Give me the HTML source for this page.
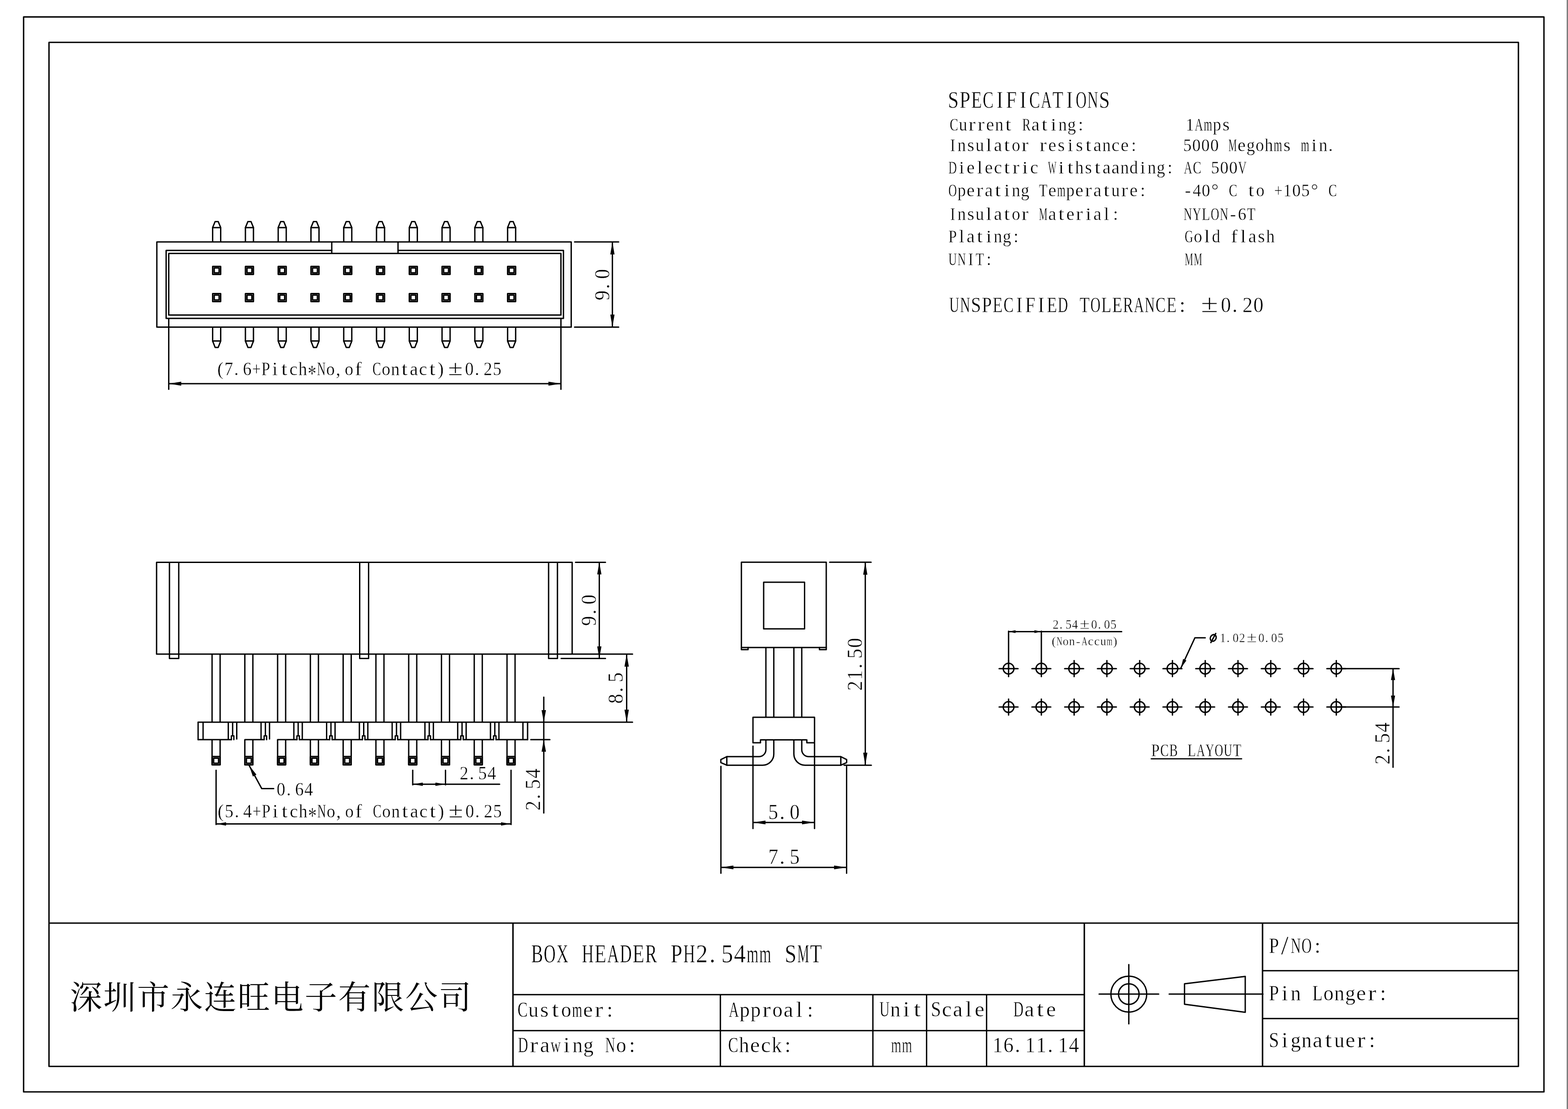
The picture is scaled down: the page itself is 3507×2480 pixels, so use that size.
<!DOCTYPE html>
<html lang="en"><head><meta charset="utf-8"><title>BOX HEADER PH2.54mm SMT</title>
<style>
html,body{margin:0;padding:0;background:#fff}
body{width:3507px;height:2480px;overflow:hidden;position:relative}
svg{display:block;position:absolute;left:0;top:0;will-change:transform}
.edge{position:absolute;right:0;top:0;width:3px;height:2480px;background:#808080}
.ln{fill:none;stroke:#000;stroke-width:3;stroke-linecap:round;stroke-linejoin:round}
.ln .ar{fill:#000;stroke:none}
.tx{font-family:"Liberation Serif",serif;fill:#000;stroke:#fff;font-kerning:none;white-space:pre}
.cj{fill:#000}
</style></head><body>
<svg width="3507" height="2480" viewBox="0 0 3507 2480">
<g class="ln">
<path d="M52.8 37.9L3453.2 37.9L3453.2 2441.8L52.8 2441.8Z" stroke-width="3.1"/>
<path d="M109.6 94.8L3396.1 94.8L3396.1 2384.8L109.6 2384.8Z" stroke-width="3.1"/>
<path d="M110.9 2064.3L3394.8 2064.3" stroke-width="3"/>
<path d="M1147.3 2065.6L1147.3 2383.5" stroke-width="3.3"/>
<path d="M2425.2 2065.6L2425.2 2383.5" stroke-width="3.3"/>
<path d="M2823.8 2065.6L2823.8 2383.5" stroke-width="3.3"/>
<path d="M1148.6 2224.2L2424.3 2224.2" stroke-width="3"/>
<path d="M1148.6 2304.7L2424.3 2304.7" stroke-width="3"/>
<path d="M1611.2 2225.5L1611.2 2383.5" stroke-width="3"/>
<path d="M1952.3 2225.5L1952.3 2383.5" stroke-width="3"/>
<path d="M2072.4 2225.5L2072.4 2383.5" stroke-width="3"/>
<path d="M2206.6 2225.5L2206.6 2383.5" stroke-width="3"/>
<path d="M2825.1 2170.8L3394.8 2170.8" stroke-width="3"/>
<path d="M2825.1 2277.8L3394.8 2277.8" stroke-width="3"/>
<circle cx="2524.7" cy="2223.1" r="40.1"/><circle cx="2524.7" cy="2223.1" r="23"/>
<path d="M2458.3 2223.1L2591.5 2223.1"/>
<path d="M2524.7 2157.1L2524.7 2289.6"/>
<path d="M2649.3 2200.1L2785.1 2183.4L2785.1 2263.7L2649.3 2245.7Z"/>
<path d="M2615 2223.1L2824.7 2223.1"/>
<path d="M350.8 541L1277.6 541L1277.6 731.6L350.8 731.6Z"/>
<path d="M742 559.9L371.6 559.9L371.6 711.9L1260.2 711.9L1260.2 559.9L890.2 559.9"/>
<path d="M377.4 566.8L1254.6 566.8L1254.6 704.4L377.4 704.4Z"/>
<path d="M742 542.3L742 565.5"/>
<path d="M890.2 542.3L890.2 565.5"/>
<path d="M475.6 540L475.6 508.9L481.2 495.4L488 495.4L493.6 508.9L493.6 540"/>
<path d="M475.6 508.9L493.6 508.9"/>
<path d="M475.6 732.6L475.6 762.6L481.2 777L488 777L493.6 762.6L493.6 732.6"/>
<path d="M475.6 762.6L493.6 762.6"/>
<path d="M475.7 595.8L493.5 595.8L493.5 613.6L475.7 613.6Z" stroke-width="3.2"/>
<path d="M479.1 599.2L490.1 599.2L490.1 610.2L479.1 610.2Z" stroke-width="3.2"/>
<path d="M475.7 656.5L493.5 656.5L493.5 674.3L475.7 674.3Z" stroke-width="3.2"/>
<path d="M479.1 659.9L490.1 659.9L490.1 670.9L479.1 670.9Z" stroke-width="3.2"/>
<path d="M548.9 540L548.9 508.9L554.5 495.4L561.3 495.4L566.9 508.9L566.9 540"/>
<path d="M548.9 508.9L566.9 508.9"/>
<path d="M548.9 732.6L548.9 762.6L554.5 777L561.3 777L566.9 762.6L566.9 732.6"/>
<path d="M548.9 762.6L566.9 762.6"/>
<path d="M549 595.8L566.8 595.8L566.8 613.6L549 613.6Z" stroke-width="3.2"/>
<path d="M552.4 599.2L563.4 599.2L563.4 610.2L552.4 610.2Z" stroke-width="3.2"/>
<path d="M549 656.5L566.8 656.5L566.8 674.3L549 674.3Z" stroke-width="3.2"/>
<path d="M552.4 659.9L563.4 659.9L563.4 670.9L552.4 670.9Z" stroke-width="3.2"/>
<path d="M622.2 540L622.2 508.9L627.8 495.4L634.6 495.4L640.2 508.9L640.2 540"/>
<path d="M622.2 508.9L640.2 508.9"/>
<path d="M622.2 732.6L622.2 762.6L627.8 777L634.6 777L640.2 762.6L640.2 732.6"/>
<path d="M622.2 762.6L640.2 762.6"/>
<path d="M622.3 595.8L640.1 595.8L640.1 613.6L622.3 613.6Z" stroke-width="3.2"/>
<path d="M625.7 599.2L636.7 599.2L636.7 610.2L625.7 610.2Z" stroke-width="3.2"/>
<path d="M622.3 656.5L640.1 656.5L640.1 674.3L622.3 674.3Z" stroke-width="3.2"/>
<path d="M625.7 659.9L636.7 659.9L636.7 670.9L625.7 670.9Z" stroke-width="3.2"/>
<path d="M695.5 540L695.5 508.9L701.1 495.4L707.9 495.4L713.5 508.9L713.5 540"/>
<path d="M695.5 508.9L713.5 508.9"/>
<path d="M695.5 732.6L695.5 762.6L701.1 777L707.9 777L713.5 762.6L713.5 732.6"/>
<path d="M695.5 762.6L713.5 762.6"/>
<path d="M695.6 595.8L713.4 595.8L713.4 613.6L695.6 613.6Z" stroke-width="3.2"/>
<path d="M699 599.2L710 599.2L710 610.2L699 610.2Z" stroke-width="3.2"/>
<path d="M695.6 656.5L713.4 656.5L713.4 674.3L695.6 674.3Z" stroke-width="3.2"/>
<path d="M699 659.9L710 659.9L710 670.9L699 670.9Z" stroke-width="3.2"/>
<path d="M768.8 540L768.8 508.9L774.4 495.4L781.2 495.4L786.8 508.9L786.8 540"/>
<path d="M768.8 508.9L786.8 508.9"/>
<path d="M768.8 732.6L768.8 762.6L774.4 777L781.2 777L786.8 762.6L786.8 732.6"/>
<path d="M768.8 762.6L786.8 762.6"/>
<path d="M768.9 595.8L786.7 595.8L786.7 613.6L768.9 613.6Z" stroke-width="3.2"/>
<path d="M772.3 599.2L783.3 599.2L783.3 610.2L772.3 610.2Z" stroke-width="3.2"/>
<path d="M768.9 656.5L786.7 656.5L786.7 674.3L768.9 674.3Z" stroke-width="3.2"/>
<path d="M772.3 659.9L783.3 659.9L783.3 670.9L772.3 670.9Z" stroke-width="3.2"/>
<path d="M842.1 540L842.1 508.9L847.7 495.4L854.5 495.4L860.1 508.9L860.1 540"/>
<path d="M842.1 508.9L860.1 508.9"/>
<path d="M842.1 732.6L842.1 762.6L847.7 777L854.5 777L860.1 762.6L860.1 732.6"/>
<path d="M842.1 762.6L860.1 762.6"/>
<path d="M842.2 595.8L860 595.8L860 613.6L842.2 613.6Z" stroke-width="3.2"/>
<path d="M845.6 599.2L856.6 599.2L856.6 610.2L845.6 610.2Z" stroke-width="3.2"/>
<path d="M842.2 656.5L860 656.5L860 674.3L842.2 674.3Z" stroke-width="3.2"/>
<path d="M845.6 659.9L856.6 659.9L856.6 670.9L845.6 670.9Z" stroke-width="3.2"/>
<path d="M915.4 540L915.4 508.9L921 495.4L927.8 495.4L933.4 508.9L933.4 540"/>
<path d="M915.4 508.9L933.4 508.9"/>
<path d="M915.4 732.6L915.4 762.6L921 777L927.8 777L933.4 762.6L933.4 732.6"/>
<path d="M915.4 762.6L933.4 762.6"/>
<path d="M915.5 595.8L933.3 595.8L933.3 613.6L915.5 613.6Z" stroke-width="3.2"/>
<path d="M918.9 599.2L929.9 599.2L929.9 610.2L918.9 610.2Z" stroke-width="3.2"/>
<path d="M915.5 656.5L933.3 656.5L933.3 674.3L915.5 674.3Z" stroke-width="3.2"/>
<path d="M918.9 659.9L929.9 659.9L929.9 670.9L918.9 670.9Z" stroke-width="3.2"/>
<path d="M988.7 540L988.7 508.9L994.3 495.4L1001.1 495.4L1006.7 508.9L1006.7 540"/>
<path d="M988.7 508.9L1006.7 508.9"/>
<path d="M988.7 732.6L988.7 762.6L994.3 777L1001.1 777L1006.7 762.6L1006.7 732.6"/>
<path d="M988.7 762.6L1006.7 762.6"/>
<path d="M988.8 595.8L1006.6 595.8L1006.6 613.6L988.8 613.6Z" stroke-width="3.2"/>
<path d="M992.2 599.2L1003.2 599.2L1003.2 610.2L992.2 610.2Z" stroke-width="3.2"/>
<path d="M988.8 656.5L1006.6 656.5L1006.6 674.3L988.8 674.3Z" stroke-width="3.2"/>
<path d="M992.2 659.9L1003.2 659.9L1003.2 670.9L992.2 670.9Z" stroke-width="3.2"/>
<path d="M1062 540L1062 508.9L1067.6 495.4L1074.4 495.4L1080 508.9L1080 540"/>
<path d="M1062 508.9L1080 508.9"/>
<path d="M1062 732.6L1062 762.6L1067.6 777L1074.4 777L1080 762.6L1080 732.6"/>
<path d="M1062 762.6L1080 762.6"/>
<path d="M1062.1 595.8L1079.9 595.8L1079.9 613.6L1062.1 613.6Z" stroke-width="3.2"/>
<path d="M1065.5 599.2L1076.5 599.2L1076.5 610.2L1065.5 610.2Z" stroke-width="3.2"/>
<path d="M1062.1 656.5L1079.9 656.5L1079.9 674.3L1062.1 674.3Z" stroke-width="3.2"/>
<path d="M1065.5 659.9L1076.5 659.9L1076.5 670.9L1065.5 670.9Z" stroke-width="3.2"/>
<path d="M1135.3 540L1135.3 508.9L1140.9 495.4L1147.7 495.4L1153.3 508.9L1153.3 540"/>
<path d="M1135.3 508.9L1153.3 508.9"/>
<path d="M1135.3 732.6L1135.3 762.6L1140.9 777L1147.7 777L1153.3 762.6L1153.3 732.6"/>
<path d="M1135.3 762.6L1153.3 762.6"/>
<path d="M1135.4 595.8L1153.2 595.8L1153.2 613.6L1135.4 613.6Z" stroke-width="3.2"/>
<path d="M1138.8 599.2L1149.8 599.2L1149.8 610.2L1138.8 610.2Z" stroke-width="3.2"/>
<path d="M1135.4 656.5L1153.2 656.5L1153.2 674.3L1135.4 674.3Z" stroke-width="3.2"/>
<path d="M1138.8 659.9L1149.8 659.9L1149.8 670.9L1138.8 670.9Z" stroke-width="3.2"/>
<path d="M1285.1 541L1383.7 541"/>
<path d="M1285.1 731.6L1383.7 731.6"/>
<path d="M1369.7 542.3L1369.7 730.3"/>
<path class="ar" d="M1369.7 541L1374.5 569L1365 569Z"/>
<path class="ar" d="M1369.7 731.6L1365 703.6L1374.5 703.6Z"/>
<path d="M377.4 713.8L377.4 870.5"/>
<path d="M1254.6 713.8L1254.6 870.5"/>
<path d="M378.7 858L1253.3 858"/>
<path class="ar" d="M377.4 858L405.4 853.5L405.4 862.5Z"/>
<path class="ar" d="M1254.6 858L1226.6 862.5L1226.6 853.5Z"/>
<path d="M350.2 1257.4L1279.7 1257.4L1279.7 1462.8L350.2 1462.8Z"/>
<path d="M379 1258.4L379 1472.6L399.8 1472.6L399.8 1258.4"/>
<path d="M804.5 1258.4L804.5 1472.6L824.4 1472.6L824.4 1258.4"/>
<path d="M1227 1258.4L1227 1472.6L1246.8 1472.6L1246.8 1258.4"/>
<path d="M443.1 1615.1L1414.7 1615.1"/>
<path d="M443.1 1615.1L443.1 1653.9"/>
<path d="M454.2 1616.4L454.2 1652.6"/>
<path d="M474.3 1464.1L474.3 1613.8"/>
<path d="M492.3 1464.1L492.3 1613.8"/>
<path d="M474.3 1655.2L474.3 1709.7"/>
<path d="M492.3 1655.2L492.3 1709.7"/>
<path d="M474.4 1691.9L492.2 1691.9L492.2 1710.3L474.4 1710.3Z" stroke-width="3.2"/>
<path d="M477.8 1695.4L488.8 1695.4L488.8 1706.8L477.8 1706.8Z" stroke-width="3.2"/>
<path d="M510.6 1616.4L510.6 1652.6"/>
<path d="M520.3 1616.4L520.3 1645.6"/>
<path d="M517.5 1653.9L517.5 1645.6L523 1645.6L523 1653.9"/>
<path d="M529.5 1616.4L529.5 1652.6"/>
<path d="M547.6 1464.1L547.6 1613.8"/>
<path d="M565.6 1464.1L565.6 1613.8"/>
<path d="M547.6 1655.2L547.6 1709.7"/>
<path d="M565.6 1655.2L565.6 1709.7"/>
<path d="M547.7 1691.9L565.5 1691.9L565.5 1710.3L547.7 1710.3Z" stroke-width="3.2"/>
<path d="M551.1 1695.4L562.1 1695.4L562.1 1706.8L551.1 1706.8Z" stroke-width="3.2"/>
<path d="M583.9 1616.4L583.9 1652.6"/>
<path d="M593.6 1616.4L593.6 1645.6"/>
<path d="M590.8 1653.9L590.8 1645.6L596.3 1645.6L596.3 1653.9"/>
<path d="M602.8 1616.4L602.8 1652.6"/>
<path d="M620.9 1464.1L620.9 1613.8"/>
<path d="M638.9 1464.1L638.9 1613.8"/>
<path d="M620.9 1655.2L620.9 1709.7"/>
<path d="M638.9 1655.2L638.9 1709.7"/>
<path d="M621 1691.9L638.8 1691.9L638.8 1710.3L621 1710.3Z" stroke-width="3.2"/>
<path d="M624.4 1695.4L635.4 1695.4L635.4 1706.8L624.4 1706.8Z" stroke-width="3.2"/>
<path d="M657.2 1616.4L657.2 1652.6"/>
<path d="M666.9 1616.4L666.9 1645.6"/>
<path d="M664.1 1653.9L664.1 1645.6L669.6 1645.6L669.6 1653.9"/>
<path d="M676.1 1616.4L676.1 1652.6"/>
<path d="M694.2 1464.1L694.2 1613.8"/>
<path d="M712.2 1464.1L712.2 1613.8"/>
<path d="M694.2 1655.2L694.2 1709.7"/>
<path d="M712.2 1655.2L712.2 1709.7"/>
<path d="M694.3 1691.9L712.1 1691.9L712.1 1710.3L694.3 1710.3Z" stroke-width="3.2"/>
<path d="M697.7 1695.4L708.7 1695.4L708.7 1706.8L697.7 1706.8Z" stroke-width="3.2"/>
<path d="M730.5 1616.4L730.5 1652.6"/>
<path d="M740.2 1616.4L740.2 1645.6"/>
<path d="M737.4 1653.9L737.4 1645.6L742.9 1645.6L742.9 1653.9"/>
<path d="M749.4 1616.4L749.4 1652.6"/>
<path d="M767.5 1464.1L767.5 1613.8"/>
<path d="M785.5 1464.1L785.5 1613.8"/>
<path d="M767.5 1655.2L767.5 1709.7"/>
<path d="M785.5 1655.2L785.5 1709.7"/>
<path d="M767.6 1691.9L785.4 1691.9L785.4 1710.3L767.6 1710.3Z" stroke-width="3.2"/>
<path d="M771 1695.4L782 1695.4L782 1706.8L771 1706.8Z" stroke-width="3.2"/>
<path d="M803.8 1616.4L803.8 1652.6"/>
<path d="M813.5 1616.4L813.5 1645.6"/>
<path d="M810.7 1653.9L810.7 1645.6L816.2 1645.6L816.2 1653.9"/>
<path d="M822.7 1616.4L822.7 1652.6"/>
<path d="M840.8 1464.1L840.8 1613.8"/>
<path d="M858.8 1464.1L858.8 1613.8"/>
<path d="M840.8 1655.2L840.8 1709.7"/>
<path d="M858.8 1655.2L858.8 1709.7"/>
<path d="M840.9 1691.9L858.7 1691.9L858.7 1710.3L840.9 1710.3Z" stroke-width="3.2"/>
<path d="M844.3 1695.4L855.3 1695.4L855.3 1706.8L844.3 1706.8Z" stroke-width="3.2"/>
<path d="M877.1 1616.4L877.1 1652.6"/>
<path d="M886.8 1616.4L886.8 1645.6"/>
<path d="M884 1653.9L884 1645.6L889.5 1645.6L889.5 1653.9"/>
<path d="M896 1616.4L896 1652.6"/>
<path d="M914.1 1464.1L914.1 1613.8"/>
<path d="M932.1 1464.1L932.1 1613.8"/>
<path d="M914.1 1655.2L914.1 1709.7"/>
<path d="M932.1 1655.2L932.1 1709.7"/>
<path d="M914.2 1691.9L932 1691.9L932 1710.3L914.2 1710.3Z" stroke-width="3.2"/>
<path d="M917.6 1695.4L928.6 1695.4L928.6 1706.8L917.6 1706.8Z" stroke-width="3.2"/>
<path d="M950.4 1616.4L950.4 1652.6"/>
<path d="M960.1 1616.4L960.1 1645.6"/>
<path d="M957.3 1653.9L957.3 1645.6L962.8 1645.6L962.8 1653.9"/>
<path d="M969.3 1616.4L969.3 1652.6"/>
<path d="M987.4 1464.1L987.4 1613.8"/>
<path d="M1005.4 1464.1L1005.4 1613.8"/>
<path d="M987.4 1655.2L987.4 1709.7"/>
<path d="M1005.4 1655.2L1005.4 1709.7"/>
<path d="M987.5 1691.9L1005.3 1691.9L1005.3 1710.3L987.5 1710.3Z" stroke-width="3.2"/>
<path d="M990.9 1695.4L1001.9 1695.4L1001.9 1706.8L990.9 1706.8Z" stroke-width="3.2"/>
<path d="M1023.7 1616.4L1023.7 1652.6"/>
<path d="M1033.4 1616.4L1033.4 1645.6"/>
<path d="M1030.6 1653.9L1030.6 1645.6L1036.1 1645.6L1036.1 1653.9"/>
<path d="M1042.6 1616.4L1042.6 1652.6"/>
<path d="M1060.7 1464.1L1060.7 1613.8"/>
<path d="M1078.7 1464.1L1078.7 1613.8"/>
<path d="M1060.7 1655.2L1060.7 1709.7"/>
<path d="M1078.7 1655.2L1078.7 1709.7"/>
<path d="M1060.8 1691.9L1078.6 1691.9L1078.6 1710.3L1060.8 1710.3Z" stroke-width="3.2"/>
<path d="M1064.2 1695.4L1075.2 1695.4L1075.2 1706.8L1064.2 1706.8Z" stroke-width="3.2"/>
<path d="M1097 1616.4L1097 1652.6"/>
<path d="M1106.7 1616.4L1106.7 1645.6"/>
<path d="M1103.9 1653.9L1103.9 1645.6L1109.4 1645.6L1109.4 1653.9"/>
<path d="M1115.9 1616.4L1115.9 1652.6"/>
<path d="M1134 1464.1L1134 1613.8"/>
<path d="M1152 1464.1L1152 1613.8"/>
<path d="M1134 1655.2L1134 1709.7"/>
<path d="M1152 1655.2L1152 1709.7"/>
<path d="M1134.1 1691.9L1151.9 1691.9L1151.9 1710.3L1134.1 1710.3Z" stroke-width="3.2"/>
<path d="M1137.5 1695.4L1148.5 1695.4L1148.5 1706.8L1137.5 1706.8Z" stroke-width="3.2"/>
<path d="M1169.6 1616.4L1169.6 1652.6"/>
<path d="M1180 1615.1L1180 1653.9"/>
<path d="M443.1 1653.9L517.5 1653.9"/>
<path d="M547.6 1653.9L590.8 1653.9"/>
<path d="M620.9 1653.9L664.1 1653.9"/>
<path d="M669.6 1653.9L737.4 1653.9"/>
<path d="M742.9 1653.9L810.7 1653.9"/>
<path d="M816.2 1653.9L884 1653.9"/>
<path d="M889.5 1653.9L957.3 1653.9"/>
<path d="M962.8 1653.9L1030.6 1653.9"/>
<path d="M1036.1 1653.9L1103.9 1653.9"/>
<path d="M1109.4 1653.9L1180 1653.9"/>
<path d="M1287.3 1257.4L1354.1 1257.4"/>
<path d="M1255.1 1472.4L1354.1 1472.4"/>
<path d="M1340.4 1258.7L1340.4 1471.1"/>
<path class="ar" d="M1340.4 1257.4L1345.2 1284.4L1335.7 1284.4Z"/>
<path class="ar" d="M1340.4 1472.4L1335.7 1445.4L1345.2 1445.4Z"/>
<path d="M1281 1462.8L1414.7 1462.8"/>
<path d="M1401.6 1464.1L1401.6 1613.8"/>
<path class="ar" d="M1401.6 1462.8L1406.5 1490.8L1396.7 1490.8Z"/>
<path class="ar" d="M1401.6 1615.1L1396.7 1587.1L1406.5 1587.1Z"/>
<path d="M1216.2 1558.9L1216.2 1818"/>
<path class="ar" d="M1216.2 1615.1L1211.3 1588.1L1221.1 1588.1Z"/>
<path class="ar" d="M1216.2 1654.1L1221.1 1681.1L1211.3 1681.1Z"/>
<path d="M1187.2 1654.1L1229.9 1654.1"/>
<path d="M923.1 1722.6L923.1 1755.1"/>
<path d="M996.4 1722.6L996.4 1755.1"/>
<path d="M924.4 1753.7L1117.4 1753.7"/>
<path class="ar" d="M923.1 1753.7L945.6 1750L945.6 1757.5Z"/>
<path class="ar" d="M996.4 1753.7L973.9 1757.5L973.9 1750Z"/>
<path d="M483.3 1722.6L483.3 1843.8"/>
<path d="M1143 1722.6L1143 1843.8"/>
<path d="M484.6 1842.4L1141.7 1842.4"/>
<path class="ar" d="M483.3 1842.4L505.8 1838.7L505.8 1846.2Z"/>
<path class="ar" d="M1143 1842.4L1120.5 1846.2L1120.5 1838.7Z"/>
<path d="M557.1 1711.5L585.4 1763.5L612.1 1763.5"/>
<path class="ar" d="M557.1 1711.5L573.5 1732.2L565.6 1736.5Z"/>
<path d="M1658.2 1257.2L1848 1257.2L1848 1448.1L1658.2 1448.1Z"/>
<path d="M1658.2 1448.1L1658.2 1452.8L1673.1 1452.8L1673.1 1448.1"/>
<path d="M1848 1448.1L1848 1452.8L1832.8 1452.8L1832.8 1448.1"/>
<path d="M1708 1302.1L1799.5 1302.1L1799.5 1406.2L1708 1406.2Z"/>
<path d="M1713 1449.4L1713 1602.8"/>
<path d="M1730.7 1449.4L1730.7 1602.8"/>
<path d="M1775.6 1449.4L1775.6 1602.8"/>
<path d="M1793.2 1449.4L1793.2 1602.8"/>
<path d="M1684.1 1660.9L1684.1 1604.1L1821.8 1604.1L1821.8 1660.9L1804.6 1660.9L1804.6 1654.4L1700.9 1654.4L1700.9 1660.9Z"/>
<path d="M1713 1654.4V1676.5 A15.5 15.5 0 0 1 1697.5 1692H1625.6"/>
<path d="M1730.7 1654.4V1686.2 A25 25 0 0 1 1705.7 1711.2H1625.6"/>
<path d="M1625.6 1692L1612.2 1698.7L1612.2 1705.3L1625.6 1711.2"/>
<path d="M1625.6 1693.3L1625.6 1709.9"/>
<path d="M1793.2 1654.4V1676.5 A15.5 15.5 0 0 0 1808.7 1692H1880.6"/>
<path d="M1775.6 1654.4V1686.2 A25 25 0 0 0 1800.6 1711.2H1880.6"/>
<path d="M1880.6 1692L1893.6 1698.7L1893.6 1705.3L1880.6 1711.2"/>
<path d="M1880.6 1693.3L1880.6 1709.9"/>
<path d="M1855.7 1257.2L1948.2 1257.2"/>
<path d="M1888 1711.2L1948.7 1711.2"/>
<path d="M1935.3 1258.5L1935.3 1709.9"/>
<path class="ar" d="M1935.3 1257.2L1940 1285.2L1930.6 1285.2Z"/>
<path class="ar" d="M1935.3 1711.2L1930.6 1683.2L1940 1683.2Z"/>
<path d="M1684.1 1668.5L1684.1 1852.7"/>
<path d="M1821.8 1662.2L1821.8 1852.7"/>
<path d="M1685.4 1839.3L1820.5 1839.3"/>
<path class="ar" d="M1684.1 1839.3L1712.1 1835L1712.1 1843.5Z"/>
<path class="ar" d="M1821.8 1839.3L1793.8 1843.5L1793.8 1835Z"/>
<path d="M1612.4 1713.7L1612.4 1952.7"/>
<path d="M1893.5 1713.7L1893.5 1952.7"/>
<path d="M1613.7 1939.8L1892.2 1939.8"/>
<path class="ar" d="M1612.4 1939.8L1640.4 1935.5L1640.4 1944Z"/>
<path class="ar" d="M1893.5 1939.8L1865.5 1944L1865.5 1935.5Z"/>
<circle cx="2255.8" cy="1495.2" r="12"/>
<path d="M2234.7 1495.2L2276.9 1495.2"/>
<path d="M2255.8 1477.3L2255.8 1513.1"/>
<circle cx="2255.8" cy="1581.1" r="12"/>
<path d="M2234.7 1581.1L2276.9 1581.1"/>
<path d="M2255.8 1563.2L2255.8 1599"/>
<circle cx="2329.1" cy="1495.2" r="12"/>
<path d="M2308 1495.2L2350.2 1495.2"/>
<path d="M2329.1 1477.3L2329.1 1513.1"/>
<circle cx="2329.1" cy="1581.1" r="12"/>
<path d="M2308 1581.1L2350.2 1581.1"/>
<path d="M2329.1 1563.2L2329.1 1599"/>
<circle cx="2402.4" cy="1495.2" r="12"/>
<path d="M2381.3 1495.2L2423.5 1495.2"/>
<path d="M2402.4 1477.3L2402.4 1513.1"/>
<circle cx="2402.4" cy="1581.1" r="12"/>
<path d="M2381.3 1581.1L2423.5 1581.1"/>
<path d="M2402.4 1563.2L2402.4 1599"/>
<circle cx="2475.7" cy="1495.2" r="12"/>
<path d="M2454.6 1495.2L2496.8 1495.2"/>
<path d="M2475.7 1477.3L2475.7 1513.1"/>
<circle cx="2475.7" cy="1581.1" r="12"/>
<path d="M2454.6 1581.1L2496.8 1581.1"/>
<path d="M2475.7 1563.2L2475.7 1599"/>
<circle cx="2549" cy="1495.2" r="12"/>
<path d="M2527.9 1495.2L2570.1 1495.2"/>
<path d="M2549 1477.3L2549 1513.1"/>
<circle cx="2549" cy="1581.1" r="12"/>
<path d="M2527.9 1581.1L2570.1 1581.1"/>
<path d="M2549 1563.2L2549 1599"/>
<circle cx="2622.3" cy="1495.2" r="12"/>
<path d="M2601.2 1495.2L2643.4 1495.2"/>
<path d="M2622.3 1477.3L2622.3 1513.1"/>
<circle cx="2622.3" cy="1581.1" r="12"/>
<path d="M2601.2 1581.1L2643.4 1581.1"/>
<path d="M2622.3 1563.2L2622.3 1599"/>
<circle cx="2695.6" cy="1495.2" r="12"/>
<path d="M2674.5 1495.2L2716.7 1495.2"/>
<path d="M2695.6 1477.3L2695.6 1513.1"/>
<circle cx="2695.6" cy="1581.1" r="12"/>
<path d="M2674.5 1581.1L2716.7 1581.1"/>
<path d="M2695.6 1563.2L2695.6 1599"/>
<circle cx="2768.9" cy="1495.2" r="12"/>
<path d="M2747.8 1495.2L2790 1495.2"/>
<path d="M2768.9 1477.3L2768.9 1513.1"/>
<circle cx="2768.9" cy="1581.1" r="12"/>
<path d="M2747.8 1581.1L2790 1581.1"/>
<path d="M2768.9 1563.2L2768.9 1599"/>
<circle cx="2842.2" cy="1495.2" r="12"/>
<path d="M2821.1 1495.2L2863.3 1495.2"/>
<path d="M2842.2 1477.3L2842.2 1513.1"/>
<circle cx="2842.2" cy="1581.1" r="12"/>
<path d="M2821.1 1581.1L2863.3 1581.1"/>
<path d="M2842.2 1563.2L2842.2 1599"/>
<circle cx="2915.5" cy="1495.2" r="12"/>
<path d="M2894.4 1495.2L2936.6 1495.2"/>
<path d="M2915.5 1477.3L2915.5 1513.1"/>
<circle cx="2915.5" cy="1581.1" r="12"/>
<path d="M2894.4 1581.1L2936.6 1581.1"/>
<path d="M2915.5 1563.2L2915.5 1599"/>
<circle cx="2988.8" cy="1495.2" r="12"/>
<path d="M2967.7 1495.2L3009.9 1495.2"/>
<path d="M2988.8 1477.3L2988.8 1513.1"/>
<circle cx="2988.8" cy="1581.1" r="12"/>
<path d="M2967.7 1581.1L3009.9 1581.1"/>
<path d="M2988.8 1563.2L2988.8 1599"/>
<path d="M2255.8 1411.6L2255.8 1493.9"/>
<path d="M2329.1 1411.6L2329.1 1493.9"/>
<path d="M2257.1 1412.4L2508.7 1412.4"/>
<path class="ar" d="M2255.8 1412.4L2271.3 1409.2L2271.3 1415.7Z"/>
<path class="ar" d="M2329.1 1412.4L2313.6 1415.7L2313.6 1409.2Z"/>
<path d="M2641 1494.3L2672.6 1426.2L2695.6 1426.2"/>
<path class="ar" d="M2641 1494.3L2646.2 1473.6L2653.5 1476.9Z"/>
<ellipse cx="2713.5" cy="1426.6" rx="6.3" ry="7.7" stroke-width="3.1" transform="rotate(28 2713.5 1426.6)"/>
<path d="M2708.2 1436.9L2719.2 1416.5" stroke-width="3.1"/>
<path d="M2990.1 1495.2L3129.1 1495.2"/>
<path d="M2990.1 1581.1L3129.1 1581.1"/>
<path d="M3115.7 1496.5L3115.7 1715.8"/>
<path class="ar" d="M3115.7 1495.2L3120.3 1520.7L3111 1520.7Z"/>
<path class="ar" d="M3115.7 1581.1L3111 1555.6L3120.3 1555.6Z"/>
<path d="M2574.8 1696.9L2777.1 1696.9" stroke-width="2.6"/>
</g>
<g class="tx">
<text transform="translate(2119.2 240.6)" font-size="52" stroke-width="0.7"><tspan x="0.9" textLength="24.2" lengthAdjust="spacingAndGlyphs">S</tspan><tspan x="26.9" textLength="24.2" lengthAdjust="spacingAndGlyphs">P</tspan><tspan x="52.9" textLength="24.2" lengthAdjust="spacingAndGlyphs">E</tspan><tspan x="78.9" textLength="24.2" lengthAdjust="spacingAndGlyphs">C</tspan><tspan x="109.6" textLength="14.7" lengthAdjust="spacingAndGlyphs">I</tspan><tspan x="130.9" textLength="24.2" lengthAdjust="spacingAndGlyphs">F</tspan><tspan x="161.6" textLength="14.7" lengthAdjust="spacingAndGlyphs">I</tspan><tspan x="182.9" textLength="24.2" lengthAdjust="spacingAndGlyphs">C</tspan><tspan x="208.9" textLength="24.2" lengthAdjust="spacingAndGlyphs">A</tspan><tspan x="234.9" textLength="24.2" lengthAdjust="spacingAndGlyphs">T</tspan><tspan x="265.6" textLength="14.7" lengthAdjust="spacingAndGlyphs">I</tspan><tspan x="286.9" textLength="24.2" lengthAdjust="spacingAndGlyphs">O</tspan><tspan x="312.9" textLength="24.2" lengthAdjust="spacingAndGlyphs">N</tspan><tspan x="338.9" textLength="24.2" lengthAdjust="spacingAndGlyphs">S</tspan></text>
<text transform="translate(2123.5 291.7)" font-size="40.5" stroke-width="0.5"><tspan x="0.7" textLength="18.8" lengthAdjust="spacingAndGlyphs">C</tspan><tspan x="21" textLength="18.8" lengthAdjust="spacingAndGlyphs">u</tspan><tspan x="42.8" textLength="15.6" lengthAdjust="spacingAndGlyphs">r</tspan><tspan x="63.1" textLength="15.6" lengthAdjust="spacingAndGlyphs">r</tspan><tspan x="82.1">e</tspan><tspan x="102" textLength="18.8" lengthAdjust="spacingAndGlyphs">n</tspan><tspan x="125" textLength="13.2" lengthAdjust="spacingAndGlyphs">t</tspan> <tspan x="162.7" textLength="18.8" lengthAdjust="spacingAndGlyphs">R</tspan><tspan x="183.4">a</tspan><tspan x="206" textLength="13.2" lengthAdjust="spacingAndGlyphs">t</tspan><tspan x="226.8" textLength="12.2" lengthAdjust="spacingAndGlyphs">i</tspan><tspan x="243.7" textLength="18.8" lengthAdjust="spacingAndGlyphs">n</tspan><tspan x="264" textLength="18.8" lengthAdjust="spacingAndGlyphs">g</tspan><tspan x="288">:</tspan></text>
<text transform="translate(2120.5 338)" font-size="40.5" stroke-width="0.5"><tspan x="4.4" textLength="11.5" lengthAdjust="spacingAndGlyphs">I</tspan><tspan x="21" textLength="18.8" lengthAdjust="spacingAndGlyphs">n</tspan><tspan x="42.7">s</tspan><tspan x="61.5" textLength="18.8" lengthAdjust="spacingAndGlyphs">u</tspan><tspan x="85" textLength="12.2" lengthAdjust="spacingAndGlyphs">l</tspan><tspan x="102.4">a</tspan><tspan x="125" textLength="13.2" lengthAdjust="spacingAndGlyphs">t</tspan><tspan x="142.5" textLength="18.8" lengthAdjust="spacingAndGlyphs">o</tspan><tspan x="164.3" textLength="15.6" lengthAdjust="spacingAndGlyphs">r</tspan> <tspan x="204.8" textLength="15.6" lengthAdjust="spacingAndGlyphs">r</tspan><tspan x="223.9">e</tspan><tspan x="245.2">s</tspan><tspan x="267.3" textLength="12.2" lengthAdjust="spacingAndGlyphs">i</tspan><tspan x="285.7">s</tspan><tspan x="307.3" textLength="13.2" lengthAdjust="spacingAndGlyphs">t</tspan><tspan x="325.1">a</tspan><tspan x="345" textLength="18.8" lengthAdjust="spacingAndGlyphs">n</tspan><tspan x="365.6">c</tspan><tspan x="385.9">e</tspan><tspan x="409.5">:</tspan></text>
<text transform="translate(2120.5 387.8)" font-size="40.5" stroke-width="0.5"><tspan x="0.7" textLength="18.8" lengthAdjust="spacingAndGlyphs">D</tspan><tspan x="24.3" textLength="12.2" lengthAdjust="spacingAndGlyphs">i</tspan><tspan x="41.6">e</tspan><tspan x="64.8" textLength="12.2" lengthAdjust="spacingAndGlyphs">l</tspan><tspan x="82.1">e</tspan><tspan x="102.4">c</tspan><tspan x="125" textLength="13.2" lengthAdjust="spacingAndGlyphs">t</tspan><tspan x="144.1" textLength="15.6" lengthAdjust="spacingAndGlyphs">r</tspan><tspan x="166.1" textLength="12.2" lengthAdjust="spacingAndGlyphs">i</tspan><tspan x="183.4">c</tspan> <tspan x="223.5" textLength="18.8" lengthAdjust="spacingAndGlyphs">W</tspan><tspan x="247.1" textLength="12.2" lengthAdjust="spacingAndGlyphs">i</tspan><tspan x="266.8" textLength="13.2" lengthAdjust="spacingAndGlyphs">t</tspan><tspan x="284.2" textLength="18.8" lengthAdjust="spacingAndGlyphs">h</tspan><tspan x="306">s</tspan><tspan x="327.5" textLength="13.2" lengthAdjust="spacingAndGlyphs">t</tspan><tspan x="345.4">a</tspan><tspan x="365.6">a</tspan><tspan x="385.5" textLength="18.8" lengthAdjust="spacingAndGlyphs">n</tspan><tspan x="405.7" textLength="18.8" lengthAdjust="spacingAndGlyphs">d</tspan><tspan x="429.3" textLength="12.2" lengthAdjust="spacingAndGlyphs">i</tspan><tspan x="446.2" textLength="18.8" lengthAdjust="spacingAndGlyphs">n</tspan><tspan x="466.5" textLength="18.8" lengthAdjust="spacingAndGlyphs">g</tspan><tspan x="490.5">:</tspan></text>
<text transform="translate(2120.5 438.7)" font-size="40.5" stroke-width="0.5"><tspan x="0.7" textLength="18.8" lengthAdjust="spacingAndGlyphs">O</tspan><tspan x="21" textLength="18.8" lengthAdjust="spacingAndGlyphs">p</tspan><tspan x="41.6">e</tspan><tspan x="63.1" textLength="15.6" lengthAdjust="spacingAndGlyphs">r</tspan><tspan x="82.1">a</tspan><tspan x="104.8" textLength="13.2" lengthAdjust="spacingAndGlyphs">t</tspan><tspan x="125.5" textLength="12.2" lengthAdjust="spacingAndGlyphs">i</tspan><tspan x="142.5" textLength="18.8" lengthAdjust="spacingAndGlyphs">n</tspan><tspan x="162.7" textLength="18.8" lengthAdjust="spacingAndGlyphs">g</tspan> <tspan x="203.2" textLength="18.8" lengthAdjust="spacingAndGlyphs">T</tspan><tspan x="223.9">e</tspan><tspan x="243.7" textLength="18.8" lengthAdjust="spacingAndGlyphs">m</tspan><tspan x="264" textLength="18.8" lengthAdjust="spacingAndGlyphs">p</tspan><tspan x="284.6">e</tspan><tspan x="306.1" textLength="15.6" lengthAdjust="spacingAndGlyphs">r</tspan><tspan x="325.1">a</tspan><tspan x="347.8" textLength="13.2" lengthAdjust="spacingAndGlyphs">t</tspan><tspan x="365.2" textLength="18.8" lengthAdjust="spacingAndGlyphs">u</tspan><tspan x="387.1" textLength="15.6" lengthAdjust="spacingAndGlyphs">r</tspan><tspan x="406.1">e</tspan><tspan x="429.7">:</tspan></text>
<text transform="translate(2120.5 492.3)" font-size="40.5" stroke-width="0.5"><tspan x="4.4" textLength="11.5" lengthAdjust="spacingAndGlyphs">I</tspan><tspan x="21" textLength="18.8" lengthAdjust="spacingAndGlyphs">n</tspan><tspan x="42.7">s</tspan><tspan x="61.5" textLength="18.8" lengthAdjust="spacingAndGlyphs">u</tspan><tspan x="85" textLength="12.2" lengthAdjust="spacingAndGlyphs">l</tspan><tspan x="102.4">a</tspan><tspan x="125" textLength="13.2" lengthAdjust="spacingAndGlyphs">t</tspan><tspan x="142.5" textLength="18.8" lengthAdjust="spacingAndGlyphs">o</tspan><tspan x="164.3" textLength="15.6" lengthAdjust="spacingAndGlyphs">r</tspan> <tspan x="203.2" textLength="18.8" lengthAdjust="spacingAndGlyphs">M</tspan><tspan x="223.9">a</tspan><tspan x="246.5" textLength="13.2" lengthAdjust="spacingAndGlyphs">t</tspan><tspan x="264.4">e</tspan><tspan x="285.8" textLength="15.6" lengthAdjust="spacingAndGlyphs">r</tspan><tspan x="307.8" textLength="12.2" lengthAdjust="spacingAndGlyphs">i</tspan><tspan x="325.1">a</tspan><tspan x="348.3" textLength="12.2" lengthAdjust="spacingAndGlyphs">l</tspan><tspan x="369">:</tspan></text>
<text transform="translate(2120.5 542.4)" font-size="40.5" stroke-width="0.5"><tspan x="0.7" textLength="18.8" lengthAdjust="spacingAndGlyphs">P</tspan><tspan x="24.3" textLength="12.2" lengthAdjust="spacingAndGlyphs">l</tspan><tspan x="41.6">a</tspan><tspan x="64.3" textLength="13.2" lengthAdjust="spacingAndGlyphs">t</tspan><tspan x="85" textLength="12.2" lengthAdjust="spacingAndGlyphs">i</tspan><tspan x="102" textLength="18.8" lengthAdjust="spacingAndGlyphs">n</tspan><tspan x="122.2" textLength="18.8" lengthAdjust="spacingAndGlyphs">g</tspan><tspan x="146.2">:</tspan></text>
<text transform="translate(2120.5 592.5)" font-size="40.5" stroke-width="0.5"><tspan x="0.7" textLength="18.8" lengthAdjust="spacingAndGlyphs">U</tspan><tspan x="21" textLength="18.8" lengthAdjust="spacingAndGlyphs">N</tspan><tspan x="44.9" textLength="11.5" lengthAdjust="spacingAndGlyphs">I</tspan><tspan x="61.5" textLength="18.8" lengthAdjust="spacingAndGlyphs">T</tspan><tspan x="85.5">:</tspan></text>
<text transform="translate(2651 291.7)" font-size="40.5" stroke-width="0.5"><tspan x="0.7" textLength="18.8" lengthAdjust="spacingAndGlyphs">1</tspan><tspan x="21" textLength="18.8" lengthAdjust="spacingAndGlyphs">A</tspan><tspan x="41.2" textLength="18.8" lengthAdjust="spacingAndGlyphs">m</tspan><tspan x="61.5" textLength="18.8" lengthAdjust="spacingAndGlyphs">p</tspan><tspan x="83.2">s</tspan></text>
<text transform="translate(2645.5 338)" font-size="40.5" stroke-width="0.5"><tspan x="0.7" textLength="18.8" lengthAdjust="spacingAndGlyphs">5</tspan><tspan x="21" textLength="18.8" lengthAdjust="spacingAndGlyphs">0</tspan><tspan x="41.2" textLength="18.8" lengthAdjust="spacingAndGlyphs">0</tspan><tspan x="61.5" textLength="18.8" lengthAdjust="spacingAndGlyphs">0</tspan> <tspan x="102" textLength="18.8" lengthAdjust="spacingAndGlyphs">M</tspan><tspan x="122.6">e</tspan><tspan x="142.5" textLength="18.8" lengthAdjust="spacingAndGlyphs">g</tspan><tspan x="162.7" textLength="18.8" lengthAdjust="spacingAndGlyphs">o</tspan><tspan x="183" textLength="18.8" lengthAdjust="spacingAndGlyphs">h</tspan><tspan x="203.2" textLength="18.8" lengthAdjust="spacingAndGlyphs">m</tspan><tspan x="225">s</tspan> <tspan x="264" textLength="18.8" lengthAdjust="spacingAndGlyphs">m</tspan><tspan x="287.6" textLength="12.2" lengthAdjust="spacingAndGlyphs">i</tspan><tspan x="304.5" textLength="18.8" lengthAdjust="spacingAndGlyphs">n</tspan><tspan x="325.6">.</tspan></text>
<text transform="translate(2647 387.8)" font-size="40.5" stroke-width="0.5"><tspan x="0.7" textLength="18.8" lengthAdjust="spacingAndGlyphs">A</tspan><tspan x="21" textLength="18.8" lengthAdjust="spacingAndGlyphs">C</tspan> <tspan x="61.5" textLength="18.8" lengthAdjust="spacingAndGlyphs">5</tspan><tspan x="81.7" textLength="18.8" lengthAdjust="spacingAndGlyphs">0</tspan><tspan x="102" textLength="18.8" lengthAdjust="spacingAndGlyphs">0</tspan><tspan x="122.2" textLength="18.8" lengthAdjust="spacingAndGlyphs">V</tspan></text>
<text transform="translate(2646.5 438.7)" font-size="40.5" stroke-width="0.5"><tspan x="3.4">-</tspan><tspan x="21" textLength="18.8" lengthAdjust="spacingAndGlyphs">4</tspan><tspan x="41.2" textLength="18.8" lengthAdjust="spacingAndGlyphs">0</tspan><tspan x="62.8">°</tspan> <tspan x="102" textLength="18.8" lengthAdjust="spacingAndGlyphs">C</tspan> <tspan x="145.3" textLength="13.2" lengthAdjust="spacingAndGlyphs">t</tspan><tspan x="162.7" textLength="18.8" lengthAdjust="spacingAndGlyphs">o</tspan> <tspan x="203.2" textLength="18.8" lengthAdjust="spacingAndGlyphs">+</tspan><tspan x="223.5" textLength="18.8" lengthAdjust="spacingAndGlyphs">1</tspan><tspan x="243.7" textLength="18.8" lengthAdjust="spacingAndGlyphs">0</tspan><tspan x="264" textLength="18.8" lengthAdjust="spacingAndGlyphs">5</tspan><tspan x="285.5">°</tspan> <tspan x="324.7" textLength="18.8" lengthAdjust="spacingAndGlyphs">C</tspan></text>
<text transform="translate(2646.5 492.3)" font-size="40.5" stroke-width="0.5"><tspan x="0.7" textLength="18.8" lengthAdjust="spacingAndGlyphs">N</tspan><tspan x="21" textLength="18.8" lengthAdjust="spacingAndGlyphs">Y</tspan><tspan x="41.2" textLength="18.8" lengthAdjust="spacingAndGlyphs">L</tspan><tspan x="61.5" textLength="18.8" lengthAdjust="spacingAndGlyphs">O</tspan><tspan x="81.7" textLength="18.8" lengthAdjust="spacingAndGlyphs">N</tspan><tspan x="104.6">-</tspan><tspan x="122.2" textLength="18.8" lengthAdjust="spacingAndGlyphs">6</tspan><tspan x="142.5" textLength="18.8" lengthAdjust="spacingAndGlyphs">T</tspan></text>
<text transform="translate(2649 542.4)" font-size="40.5" stroke-width="0.5"><tspan x="0.7" textLength="18.8" lengthAdjust="spacingAndGlyphs">G</tspan><tspan x="21" textLength="18.8" lengthAdjust="spacingAndGlyphs">o</tspan><tspan x="44.5" textLength="12.2" lengthAdjust="spacingAndGlyphs">l</tspan><tspan x="61.5" textLength="18.8" lengthAdjust="spacingAndGlyphs">d</tspan> <tspan x="103.9" textLength="15" lengthAdjust="spacingAndGlyphs">f</tspan><tspan x="125.5" textLength="12.2" lengthAdjust="spacingAndGlyphs">l</tspan><tspan x="142.9">a</tspan><tspan x="164.2">s</tspan><tspan x="183" textLength="18.8" lengthAdjust="spacingAndGlyphs">h</tspan></text>
<text transform="translate(2649 592.5)" font-size="40.5" stroke-width="0.5"><tspan x="0.7" textLength="18.8" lengthAdjust="spacingAndGlyphs">M</tspan><tspan x="21" textLength="18.8" lengthAdjust="spacingAndGlyphs">M</tspan></text>
<text transform="translate(2122 697.9)" font-size="48.6" stroke-width="0.6"><tspan x="0.9" textLength="22.6" lengthAdjust="spacingAndGlyphs">U</tspan><tspan x="25.2" textLength="22.6" lengthAdjust="spacingAndGlyphs">N</tspan><tspan x="49.5" textLength="22.6" lengthAdjust="spacingAndGlyphs">S</tspan><tspan x="73.8" textLength="22.6" lengthAdjust="spacingAndGlyphs">P</tspan><tspan x="98.1" textLength="22.6" lengthAdjust="spacingAndGlyphs">E</tspan><tspan x="122.4" textLength="22.6" lengthAdjust="spacingAndGlyphs">C</tspan><tspan x="151.1" textLength="13.8" lengthAdjust="spacingAndGlyphs">I</tspan><tspan x="171" textLength="22.6" lengthAdjust="spacingAndGlyphs">F</tspan><tspan x="199.7" textLength="13.8" lengthAdjust="spacingAndGlyphs">I</tspan><tspan x="219.6" textLength="22.6" lengthAdjust="spacingAndGlyphs">E</tspan><tspan x="243.9" textLength="22.6" lengthAdjust="spacingAndGlyphs">D</tspan> <tspan x="292.5" textLength="22.6" lengthAdjust="spacingAndGlyphs">T</tspan><tspan x="316.8" textLength="22.6" lengthAdjust="spacingAndGlyphs">O</tspan><tspan x="341.1" textLength="22.6" lengthAdjust="spacingAndGlyphs">L</tspan><tspan x="365.4" textLength="22.6" lengthAdjust="spacingAndGlyphs">E</tspan><tspan x="389.7" textLength="22.6" lengthAdjust="spacingAndGlyphs">R</tspan><tspan x="414" textLength="22.6" lengthAdjust="spacingAndGlyphs">A</tspan><tspan x="438.3" textLength="22.6" lengthAdjust="spacingAndGlyphs">N</tspan><tspan x="462.6" textLength="22.6" lengthAdjust="spacingAndGlyphs">C</tspan><tspan x="486.9" textLength="22.6" lengthAdjust="spacingAndGlyphs">E</tspan><tspan x="515.7">:</tspan></text>
<text transform="translate(2680.9 697.9)" font-size="48.6" stroke-width="0.6"><tspan x="5.1" font-size="57.8" textLength="38.4" lengthAdjust="spacingAndGlyphs">±</tspan><tspan x="49.5" textLength="22.6" lengthAdjust="spacingAndGlyphs">0</tspan><tspan x="74.8">.</tspan><tspan x="98.1" textLength="22.6" lengthAdjust="spacingAndGlyphs">2</tspan><tspan x="122.4" textLength="22.6" lengthAdjust="spacingAndGlyphs">0</tspan></text>
<text transform="translate(480.5 839.4)" font-size="41.4" stroke-width="0.5"><tspan x="5.5">(</tspan><tspan x="21.4" textLength="19.3" lengthAdjust="spacingAndGlyphs">7</tspan><tspan x="43.1">.</tspan><tspan x="62.8" textLength="19.3" lengthAdjust="spacingAndGlyphs">6</tspan><tspan x="83.5" textLength="19.3" lengthAdjust="spacingAndGlyphs">+</tspan><tspan x="104.2" textLength="19.3" lengthAdjust="spacingAndGlyphs">P</tspan><tspan x="128.3" textLength="12.4" lengthAdjust="spacingAndGlyphs">i</tspan><tspan x="148.5" textLength="13.5" lengthAdjust="spacingAndGlyphs">t</tspan><tspan x="166.8">c</tspan><tspan x="187" textLength="19.3" lengthAdjust="spacingAndGlyphs">h</tspan><tspan x="207.7" y="13.7" font-size="51.8" textLength="19.3" lengthAdjust="spacingAndGlyphs">*</tspan><tspan x="228.4" y="0" textLength="19.3" lengthAdjust="spacingAndGlyphs">N</tspan><tspan x="249.1" textLength="19.3" lengthAdjust="spacingAndGlyphs">o</tspan><tspan x="270.8">,</tspan><tspan x="290.5" textLength="19.3" lengthAdjust="spacingAndGlyphs">o</tspan><tspan x="313.2" textLength="15.3" lengthAdjust="spacingAndGlyphs">f</tspan> <tspan x="352.6" textLength="19.3" lengthAdjust="spacingAndGlyphs">C</tspan><tspan x="373.3" textLength="19.3" lengthAdjust="spacingAndGlyphs">o</tspan><tspan x="394" textLength="19.3" lengthAdjust="spacingAndGlyphs">n</tspan><tspan x="417.6" textLength="13.5" lengthAdjust="spacingAndGlyphs">t</tspan><tspan x="435.9">a</tspan><tspan x="456.6">c</tspan><tspan x="479.7" textLength="13.5" lengthAdjust="spacingAndGlyphs">t</tspan><tspan x="498.2">)</tspan></text>
<text transform="translate(998 839.4)" font-size="41.4" stroke-width="0.5"><tspan x="4.3" font-size="49.3" textLength="32.7" lengthAdjust="spacingAndGlyphs">±</tspan><tspan x="42.1" textLength="19.3" lengthAdjust="spacingAndGlyphs">0</tspan><tspan x="63.8">.</tspan><tspan x="83.5" textLength="19.3" lengthAdjust="spacingAndGlyphs">2</tspan><tspan x="104.2" textLength="19.3" lengthAdjust="spacingAndGlyphs">5</tspan></text>
<text transform="translate(1362.7 672.5) rotate(-90)" font-size="48" stroke-width="0.6"><tspan x="0.8" textLength="22.3" lengthAdjust="spacingAndGlyphs">9</tspan><tspan x="25.9">.</tspan><tspan x="48.8" textLength="22.3" lengthAdjust="spacingAndGlyphs">0</tspan></text>
<text transform="translate(481.3 1828)" font-size="41.4" stroke-width="0.5"><tspan x="5.5">(</tspan><tspan x="21.4" textLength="19.3" lengthAdjust="spacingAndGlyphs">5</tspan><tspan x="43.1">.</tspan><tspan x="62.8" textLength="19.3" lengthAdjust="spacingAndGlyphs">4</tspan><tspan x="83.5" textLength="19.3" lengthAdjust="spacingAndGlyphs">+</tspan><tspan x="104.2" textLength="19.3" lengthAdjust="spacingAndGlyphs">P</tspan><tspan x="128.3" textLength="12.4" lengthAdjust="spacingAndGlyphs">i</tspan><tspan x="148.5" textLength="13.5" lengthAdjust="spacingAndGlyphs">t</tspan><tspan x="166.8">c</tspan><tspan x="187" textLength="19.3" lengthAdjust="spacingAndGlyphs">h</tspan><tspan x="207.7" y="13.7" font-size="51.8" textLength="19.3" lengthAdjust="spacingAndGlyphs">*</tspan><tspan x="228.4" y="0" textLength="19.3" lengthAdjust="spacingAndGlyphs">N</tspan><tspan x="249.1" textLength="19.3" lengthAdjust="spacingAndGlyphs">o</tspan><tspan x="270.8">,</tspan><tspan x="290.5" textLength="19.3" lengthAdjust="spacingAndGlyphs">o</tspan><tspan x="313.2" textLength="15.3" lengthAdjust="spacingAndGlyphs">f</tspan> <tspan x="352.6" textLength="19.3" lengthAdjust="spacingAndGlyphs">C</tspan><tspan x="373.3" textLength="19.3" lengthAdjust="spacingAndGlyphs">o</tspan><tspan x="394" textLength="19.3" lengthAdjust="spacingAndGlyphs">n</tspan><tspan x="417.6" textLength="13.5" lengthAdjust="spacingAndGlyphs">t</tspan><tspan x="435.9">a</tspan><tspan x="456.6">c</tspan><tspan x="479.7" textLength="13.5" lengthAdjust="spacingAndGlyphs">t</tspan><tspan x="498.2">)</tspan></text>
<text transform="translate(998.8 1828)" font-size="41.4" stroke-width="0.5"><tspan x="4.3" font-size="49.3" textLength="32.7" lengthAdjust="spacingAndGlyphs">±</tspan><tspan x="42.1" textLength="19.3" lengthAdjust="spacingAndGlyphs">0</tspan><tspan x="63.8">.</tspan><tspan x="83.5" textLength="19.3" lengthAdjust="spacingAndGlyphs">2</tspan><tspan x="104.2" textLength="19.3" lengthAdjust="spacingAndGlyphs">5</tspan></text>
<text transform="translate(618 1778.6)" font-size="41.4" stroke-width="0.5"><tspan x="0.7" textLength="19.3" lengthAdjust="spacingAndGlyphs">0</tspan><tspan x="22.4">.</tspan><tspan x="42.1" textLength="19.3" lengthAdjust="spacingAndGlyphs">6</tspan><tspan x="62.8" textLength="19.3" lengthAdjust="spacingAndGlyphs">4</tspan></text>
<text transform="translate(1027.5 1742.6)" font-size="41.4" stroke-width="0.5"><tspan x="0.7" textLength="19.3" lengthAdjust="spacingAndGlyphs">2</tspan><tspan x="22.4">.</tspan><tspan x="42.1" textLength="19.3" lengthAdjust="spacingAndGlyphs">5</tspan><tspan x="62.8" textLength="19.3" lengthAdjust="spacingAndGlyphs">4</tspan></text>
<text transform="translate(1332.7 1400.5) rotate(-90)" font-size="48" stroke-width="0.6"><tspan x="0.8" textLength="22.3" lengthAdjust="spacingAndGlyphs">9</tspan><tspan x="25.9">.</tspan><tspan x="48.8" textLength="22.3" lengthAdjust="spacingAndGlyphs">0</tspan></text>
<text transform="translate(1392.8 1574.5) rotate(-90)" font-size="48" stroke-width="0.6"><tspan x="0.8" textLength="22.3" lengthAdjust="spacingAndGlyphs">8</tspan><tspan x="25.9">.</tspan><tspan x="48.8" textLength="22.3" lengthAdjust="spacingAndGlyphs">5</tspan></text>
<text transform="translate(1207.9 1813.5) rotate(-90)" font-size="48" stroke-width="0.6"><tspan x="0.8" textLength="22.3" lengthAdjust="spacingAndGlyphs">2</tspan><tspan x="25.9">.</tspan><tspan x="48.8" textLength="22.3" lengthAdjust="spacingAndGlyphs">5</tspan><tspan x="72.8" textLength="22.3" lengthAdjust="spacingAndGlyphs">4</tspan></text>
<text transform="translate(1927.5 1545.5) rotate(-90)" font-size="48" stroke-width="0.6"><tspan x="0.8" textLength="22.3" lengthAdjust="spacingAndGlyphs">2</tspan><tspan x="24.8" textLength="22.3" lengthAdjust="spacingAndGlyphs">1</tspan><tspan x="49.9">.</tspan><tspan x="72.8" textLength="22.3" lengthAdjust="spacingAndGlyphs">5</tspan><tspan x="96.8" textLength="22.3" lengthAdjust="spacingAndGlyphs">0</tspan></text>
<text transform="translate(1717.5 1831.6)" font-size="48" stroke-width="0.6"><tspan x="0.8" textLength="22.3" lengthAdjust="spacingAndGlyphs">5</tspan><tspan x="25.9">.</tspan><tspan x="48.8" textLength="22.3" lengthAdjust="spacingAndGlyphs">0</tspan></text>
<text transform="translate(1717.5 1931.7)" font-size="48" stroke-width="0.6"><tspan x="0.8" textLength="22.3" lengthAdjust="spacingAndGlyphs">7</tspan><tspan x="25.9">.</tspan><tspan x="48.8" textLength="22.3" lengthAdjust="spacingAndGlyphs">5</tspan></text>
<text transform="translate(2354 1405.7)" font-size="28.7" stroke-width="0.4"><tspan x="0.5" textLength="13.3" lengthAdjust="spacingAndGlyphs">2</tspan><tspan x="15.5">.</tspan><tspan x="29.2" textLength="13.3" lengthAdjust="spacingAndGlyphs">5</tspan><tspan x="43.6" textLength="13.3" lengthAdjust="spacingAndGlyphs">4</tspan></text>
<text transform="translate(2411.4 1405.7)" font-size="28.7" stroke-width="0.4"><tspan x="3" font-size="34.2" textLength="22.7" lengthAdjust="spacingAndGlyphs">±</tspan><tspan x="29.2" textLength="13.3" lengthAdjust="spacingAndGlyphs">0</tspan><tspan x="44.2">.</tspan><tspan x="57.9" textLength="13.3" lengthAdjust="spacingAndGlyphs">0</tspan><tspan x="72.3" textLength="13.3" lengthAdjust="spacingAndGlyphs">5</tspan></text>
<text transform="translate(2348.5 1442.9)" font-size="28" stroke-width="0.4"><tspan x="3.7">(</tspan><tspan x="14.5" textLength="13" lengthAdjust="spacingAndGlyphs">N</tspan><tspan x="28.5" textLength="13" lengthAdjust="spacingAndGlyphs">o</tspan><tspan x="42.5" textLength="13" lengthAdjust="spacingAndGlyphs">n</tspan><tspan x="58.3">-</tspan><tspan x="70.5" textLength="13" lengthAdjust="spacingAndGlyphs">A</tspan><tspan x="84.8">c</tspan><tspan x="98.8">c</tspan><tspan x="112.5" textLength="13" lengthAdjust="spacingAndGlyphs">u</tspan><tspan x="126.5" textLength="13" lengthAdjust="spacingAndGlyphs">m</tspan><tspan x="140.9">)</tspan></text>
<text transform="translate(2727.8 1436.2)" font-size="28.7" stroke-width="0.4"><tspan x="0.5" textLength="13.3" lengthAdjust="spacingAndGlyphs">1</tspan><tspan x="15.5">.</tspan><tspan x="29.2" textLength="13.3" lengthAdjust="spacingAndGlyphs">0</tspan><tspan x="43.6" textLength="13.3" lengthAdjust="spacingAndGlyphs">2</tspan></text>
<text transform="translate(2785.2 1436.2)" font-size="28.7" stroke-width="0.4"><tspan x="3" font-size="34.2" textLength="22.7" lengthAdjust="spacingAndGlyphs">±</tspan><tspan x="29.2" textLength="13.3" lengthAdjust="spacingAndGlyphs">0</tspan><tspan x="44.2">.</tspan><tspan x="57.9" textLength="13.3" lengthAdjust="spacingAndGlyphs">0</tspan><tspan x="72.3" textLength="13.3" lengthAdjust="spacingAndGlyphs">5</tspan></text>
<text transform="translate(2574 1690.8)" font-size="40.6" stroke-width="0.5"><tspan x="0.7" textLength="18.9" lengthAdjust="spacingAndGlyphs">P</tspan><tspan x="21" textLength="18.9" lengthAdjust="spacingAndGlyphs">C</tspan><tspan x="41.3" textLength="18.9" lengthAdjust="spacingAndGlyphs">B</tspan> <tspan x="81.9" textLength="18.9" lengthAdjust="spacingAndGlyphs">L</tspan><tspan x="102.2" textLength="18.9" lengthAdjust="spacingAndGlyphs">A</tspan><tspan x="122.5" textLength="18.9" lengthAdjust="spacingAndGlyphs">Y</tspan><tspan x="142.8" textLength="18.9" lengthAdjust="spacingAndGlyphs">O</tspan><tspan x="163.1" textLength="18.9" lengthAdjust="spacingAndGlyphs">U</tspan><tspan x="183.4" textLength="18.9" lengthAdjust="spacingAndGlyphs">T</tspan></text>
<text transform="translate(3107.8 1710.5) rotate(-90)" font-size="48" stroke-width="0.6"><tspan x="0.8" textLength="22.3" lengthAdjust="spacingAndGlyphs">2</tspan><tspan x="25.9">.</tspan><tspan x="48.8" textLength="22.3" lengthAdjust="spacingAndGlyphs">5</tspan><tspan x="72.8" textLength="22.3" lengthAdjust="spacingAndGlyphs">4</tspan></text>
<text transform="translate(1187 2152)" font-size="56.7" stroke-width="0.7"><tspan x="1" textLength="26.4" lengthAdjust="spacingAndGlyphs">B</tspan><tspan x="29.3" textLength="26.4" lengthAdjust="spacingAndGlyphs">O</tspan><tspan x="57.7" textLength="26.4" lengthAdjust="spacingAndGlyphs">X</tspan> <tspan x="114.4" textLength="26.4" lengthAdjust="spacingAndGlyphs">H</tspan><tspan x="142.7" textLength="26.4" lengthAdjust="spacingAndGlyphs">E</tspan><tspan x="171.1" textLength="26.4" lengthAdjust="spacingAndGlyphs">A</tspan><tspan x="199.4" textLength="26.4" lengthAdjust="spacingAndGlyphs">D</tspan><tspan x="227.8" textLength="26.4" lengthAdjust="spacingAndGlyphs">E</tspan><tspan x="256.1" textLength="26.4" lengthAdjust="spacingAndGlyphs">R</tspan> <tspan x="312.8" textLength="26.4" lengthAdjust="spacingAndGlyphs">P</tspan><tspan x="341.2" textLength="26.4" lengthAdjust="spacingAndGlyphs">H</tspan><tspan x="369.5" textLength="26.4" lengthAdjust="spacingAndGlyphs">2</tspan><tspan x="399.2">.</tspan><tspan x="426.2" textLength="26.4" lengthAdjust="spacingAndGlyphs">5</tspan><tspan x="454.6" textLength="26.4" lengthAdjust="spacingAndGlyphs">4</tspan><tspan x="482.9" textLength="26.4" lengthAdjust="spacingAndGlyphs">m</tspan><tspan x="511.3" textLength="26.4" lengthAdjust="spacingAndGlyphs">m</tspan> <tspan x="568" textLength="26.4" lengthAdjust="spacingAndGlyphs">S</tspan><tspan x="596.3" textLength="26.4" lengthAdjust="spacingAndGlyphs">M</tspan><tspan x="624.7" textLength="26.4" lengthAdjust="spacingAndGlyphs">T</tspan></text>
<text transform="translate(1156.5 2274.2)" font-size="48.8" stroke-width="0.6"><tspan x="0.9" textLength="22.7" lengthAdjust="spacingAndGlyphs">C</tspan><tspan x="25.3" textLength="22.7" lengthAdjust="spacingAndGlyphs">u</tspan><tspan x="51.5">s</tspan><tspan x="77.5" textLength="15.9" lengthAdjust="spacingAndGlyphs">t</tspan><tspan x="98.5" textLength="22.7" lengthAdjust="spacingAndGlyphs">o</tspan><tspan x="122.9" textLength="22.7" lengthAdjust="spacingAndGlyphs">m</tspan><tspan x="147.8">e</tspan><tspan x="173.6" textLength="18.8" lengthAdjust="spacingAndGlyphs">r</tspan><tspan x="200.6">:</tspan></text>
<text transform="translate(1157.5 2352.9)" font-size="48.8" stroke-width="0.6"><tspan x="0.9" textLength="22.7" lengthAdjust="spacingAndGlyphs">D</tspan><tspan x="27.2" textLength="18.8" lengthAdjust="spacingAndGlyphs">r</tspan><tspan x="50.2">a</tspan><tspan x="74.1" textLength="22.7" lengthAdjust="spacingAndGlyphs">w</tspan><tspan x="102.5" textLength="14.6" lengthAdjust="spacingAndGlyphs">i</tspan><tspan x="122.9" textLength="22.7" lengthAdjust="spacingAndGlyphs">n</tspan><tspan x="147.3" textLength="22.7" lengthAdjust="spacingAndGlyphs">g</tspan> <tspan x="196.1" textLength="22.7" lengthAdjust="spacingAndGlyphs">N</tspan><tspan x="220.5" textLength="22.7" lengthAdjust="spacingAndGlyphs">o</tspan><tspan x="249.4">:</tspan></text>
<text transform="translate(1629 2274.2)" font-size="48.8" stroke-width="0.6"><tspan x="0.9" textLength="22.7" lengthAdjust="spacingAndGlyphs">A</tspan><tspan x="25.3" textLength="22.7" lengthAdjust="spacingAndGlyphs">p</tspan><tspan x="49.7" textLength="22.7" lengthAdjust="spacingAndGlyphs">p</tspan><tspan x="76" textLength="18.8" lengthAdjust="spacingAndGlyphs">r</tspan><tspan x="98.5" textLength="22.7" lengthAdjust="spacingAndGlyphs">o</tspan><tspan x="123.4">a</tspan><tspan x="151.3" textLength="14.6" lengthAdjust="spacingAndGlyphs">l</tspan><tspan x="176.2">:</tspan></text>
<text transform="translate(1627.5 2352.9)" font-size="48.8" stroke-width="0.6"><tspan x="0.9" textLength="22.7" lengthAdjust="spacingAndGlyphs">C</tspan><tspan x="25.3" textLength="22.7" lengthAdjust="spacingAndGlyphs">h</tspan><tspan x="50.2">e</tspan><tspan x="74.6">c</tspan><tspan x="98.5" textLength="22.7" lengthAdjust="spacingAndGlyphs">k</tspan><tspan x="127.4">:</tspan></text>
<text transform="translate(1966 2273.3)" font-size="48.8" stroke-width="0.6"><tspan x="0.9" textLength="22.7" lengthAdjust="spacingAndGlyphs">U</tspan><tspan x="25.3" textLength="22.7" lengthAdjust="spacingAndGlyphs">n</tspan><tspan x="53.7" textLength="14.6" lengthAdjust="spacingAndGlyphs">i</tspan><tspan x="77.5" textLength="15.9" lengthAdjust="spacingAndGlyphs">t</tspan></text>
<text transform="translate(2081 2273.3)" font-size="48.8" stroke-width="0.6"><tspan x="0.9" textLength="22.7" lengthAdjust="spacingAndGlyphs">S</tspan><tspan x="25.8">c</tspan><tspan x="50.2">a</tspan><tspan x="78.1" textLength="14.6" lengthAdjust="spacingAndGlyphs">l</tspan><tspan x="99">e</tspan></text>
<text transform="translate(2265.5 2273.3)" font-size="48.8" stroke-width="0.6"><tspan x="0.9" textLength="22.7" lengthAdjust="spacingAndGlyphs">D</tspan><tspan x="25.8">a</tspan><tspan x="53.1" textLength="15.9" lengthAdjust="spacingAndGlyphs">t</tspan><tspan x="74.6">e</tspan></text>
<text transform="translate(1992 2352.8)" font-size="48.8" stroke-width="0.6"><tspan x="0.9" textLength="22.7" lengthAdjust="spacingAndGlyphs">m</tspan><tspan x="25.3" textLength="22.7" lengthAdjust="spacingAndGlyphs">m</tspan></text>
<text transform="translate(2219 2352.8)" font-size="48.8" stroke-width="0.6"><tspan x="0.9" textLength="22.7" lengthAdjust="spacingAndGlyphs">1</tspan><tspan x="25.3" textLength="22.7" lengthAdjust="spacingAndGlyphs">6</tspan><tspan x="50.8">.</tspan><tspan x="74.1" textLength="22.7" lengthAdjust="spacingAndGlyphs">1</tspan><tspan x="98.5" textLength="22.7" lengthAdjust="spacingAndGlyphs">1</tspan><tspan x="124">.</tspan><tspan x="147.3" textLength="22.7" lengthAdjust="spacingAndGlyphs">1</tspan><tspan x="171.7" textLength="22.7" lengthAdjust="spacingAndGlyphs">4</tspan></text>
<text transform="translate(2837 2131.2)" font-size="48.8" stroke-width="0.6"><tspan x="0.9" textLength="22.7" lengthAdjust="spacingAndGlyphs">P</tspan><tspan x="28.3" y="2.4" font-size="59.5">/</tspan><tspan x="49.7" y="0" textLength="22.7" lengthAdjust="spacingAndGlyphs">N</tspan><tspan x="74.1" textLength="22.7" lengthAdjust="spacingAndGlyphs">O</tspan><tspan x="103">:</tspan></text>
<text transform="translate(2837 2237)" font-size="48.8" stroke-width="0.6"><tspan x="0.9" textLength="22.7" lengthAdjust="spacingAndGlyphs">P</tspan><tspan x="29.3" textLength="14.6" lengthAdjust="spacingAndGlyphs">i</tspan><tspan x="49.7" textLength="22.7" lengthAdjust="spacingAndGlyphs">n</tspan> <tspan x="98.5" textLength="22.7" lengthAdjust="spacingAndGlyphs">L</tspan><tspan x="122.9" textLength="22.7" lengthAdjust="spacingAndGlyphs">o</tspan><tspan x="147.3" textLength="22.7" lengthAdjust="spacingAndGlyphs">n</tspan><tspan x="171.7" textLength="22.7" lengthAdjust="spacingAndGlyphs">g</tspan><tspan x="196.6">e</tspan><tspan x="222.4" textLength="18.8" lengthAdjust="spacingAndGlyphs">r</tspan><tspan x="249.4">:</tspan></text>
<text transform="translate(2837 2342.4)" font-size="48.8" stroke-width="0.6"><tspan x="0.9" textLength="22.7" lengthAdjust="spacingAndGlyphs">S</tspan><tspan x="29.3" textLength="14.6" lengthAdjust="spacingAndGlyphs">i</tspan><tspan x="49.7" textLength="22.7" lengthAdjust="spacingAndGlyphs">g</tspan><tspan x="74.1" textLength="22.7" lengthAdjust="spacingAndGlyphs">n</tspan><tspan x="99">a</tspan><tspan x="126.3" textLength="15.9" lengthAdjust="spacingAndGlyphs">t</tspan><tspan x="147.3" textLength="22.7" lengthAdjust="spacingAndGlyphs">u</tspan><tspan x="172.2">e</tspan><tspan x="198" textLength="18.8" lengthAdjust="spacingAndGlyphs">r</tspan><tspan x="225">:</tspan></text>
</g>
<g class="cj">
<text y="2255.7" font-size="72.3" fill="#000" font-family='"Liberation Serif","Noto Serif CJK SC",serif' x="156.3 231.3 306.4 381.4 456.4 531.4 606.4 681.4 756.4 831.4 906.4 981.4">深圳市永连旺电子有限公司</text>
</g>
</svg>
<div class="edge"></div>
</body></html>
